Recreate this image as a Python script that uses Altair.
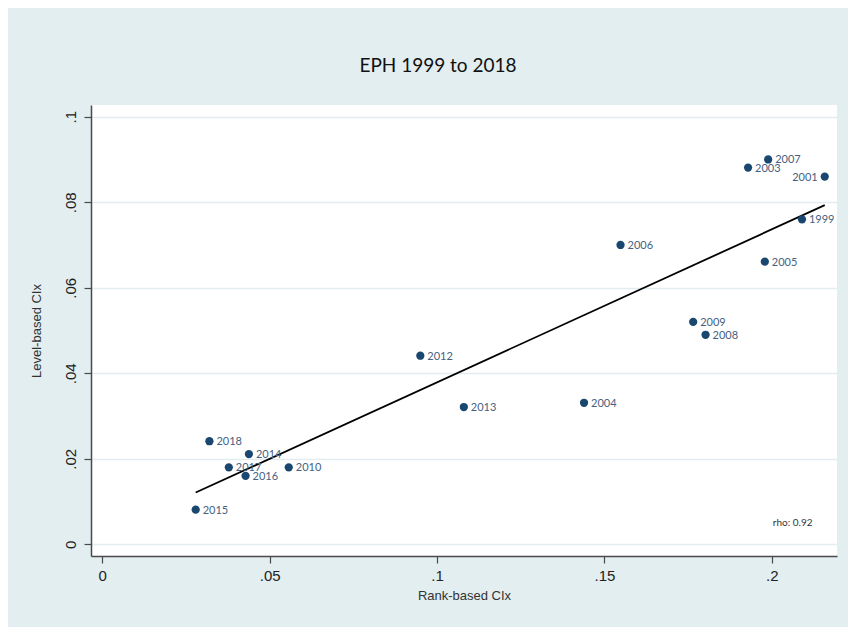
import altair as alt
import pandas as pd

# ---- data ----
years = ["2015", "2018", "2017", "2014", "2016", "2010", "2012", "2013", "2004",
         "2006", "2009", "2008", "2005", "2003", "2007", "2001", "1999"]
rank_cix = [0.0279, 0.0320, 0.0378, 0.0438, 0.0428, 0.0557, 0.0950, 0.1080, 0.1439,
            0.1548, 0.1765, 0.1802, 0.1979, 0.1929, 0.1989, 0.2158, 0.2090]
level_cix = [0.0081, 0.0241, 0.0180, 0.0211, 0.0160, 0.0180, 0.0441, 0.0321, 0.0331,
             0.0700, 0.0520, 0.0490, 0.0661, 0.0881, 0.0900, 0.0860, 0.0760]

x_ticks = [0, 0.05, 0.1, 0.15, 0.2]
x_tick_labels = ["0", ".05", ".1", ".15", ".2"]
y_ticks = [0, 0.02, 0.04, 0.06, 0.08, 0.1]
y_tick_labels = ["0", ".02", ".04", ".06", ".08", ".1"]

x_domain = [-0.00337, 0.21946]
y_domain = [-0.00274, 0.10274]

rho_text = ["rho: 0.92"]
rho_x = [0.2003]
rho_y = [0.0049]

title_text = "EPH 1999 to 2018"
x_title = "Rank-based CIx"
y_title = "Level-based CIx"

# label that sits at the right edge of the plot
edge_label = "2001"

df = pd.DataFrame({"year": years, "x": rank_cix, "y": level_cix})
rho_df = pd.DataFrame({"t": rho_text, "x": rho_x, "y": rho_y})


def label_expr(ticks, labels):
    parts = []
    for t, l in zip(ticks, labels):
        parts.append(f"abs(datum.value - {t}) < 1e-9 ? '{l}' : ")
    return "".join(parts) + "''"


BG = "#e2eef0"
NAVY = "#1a476f"
AXIS_COL = "#4a4a4a"
LABEL_COL = "#45617f"

x_enc = alt.X(
    "x:Q",
    scale=alt.Scale(domain=x_domain, nice=False, zero=False),
    axis=alt.Axis(
        values=x_ticks,
        labelExpr=label_expr(x_ticks, x_tick_labels),
        title=x_title,
        grid=False,
        domainColor=AXIS_COL,
        domainWidth=1.5,
        tickColor=AXIS_COL,
        tickSize=7,
        tickWidth=1.2,
        labelFont="Liberation Sans",
        labelFontSize=15,
        labelColor="#222222",
        labelPadding=5,
        titleFont="Liberation Sans",
        titleFontSize=13,
        titleFontWeight="normal",
        titleColor="#333333",
        titlePadding=6,
    ),
)

y_enc = alt.Y(
    "y:Q",
    scale=alt.Scale(domain=y_domain, nice=False, zero=False),
    axis=alt.Axis(
        values=y_ticks,
        labelExpr=label_expr(y_ticks, y_tick_labels),
        title=y_title,
        grid=True,
        gridColor="#e3edf0",
        gridWidth=1.6,
        domainColor=AXIS_COL,
        domainWidth=1.5,
        tickColor=AXIS_COL,
        tickSize=7,
        tickWidth=1.2,
        labelAngle=-90,
        labelAlign="center",
        labelBaseline="bottom",
        labelFont="Liberation Sans",
        labelFontSize=15,
        labelColor="#222222",
        labelPadding=6,
        titleFont="Liberation Sans",
        titleFontSize=13,
        titleFontWeight="normal",
        titleColor="#333333",
        titlePadding=20,
    ),
)

base = alt.Chart(df)

points = base.mark_circle(size=68, color=NAVY, opacity=1).encode(x=x_enc, y=y_enc)

labels = base.transform_filter(
    alt.datum.year != edge_label
).mark_text(
    align="left", baseline="middle", dx=7, dy=1,
    font="Lato", fontSize=11, color=LABEL_COL,
).encode(x="x:Q", y="y:Q", text="year:N")

labels_edge = base.transform_filter(
    alt.datum.year == edge_label
).mark_text(
    align="right", baseline="middle", dx=-7, dy=1,
    font="Lato", fontSize=11, color=LABEL_COL,
).encode(x="x:Q", y="y:Q", text="year:N")

fit = base.transform_regression("x", "y").mark_line(
    color="#000000", strokeWidth=1.8
).encode(x="x:Q", y="y:Q")

rho = alt.Chart(rho_df).mark_text(
    align="left", baseline="middle", font="Lato", fontSize=10, color="#333333"
).encode(x="x:Q", y="y:Q", text="t:N")

chart = (
    alt.layer(fit, points, labels, labels_edge, rho)
    .properties(
        width=746,
        height=451,
        autosize=alt.AutoSizeParams(type="none"),
        padding={"left": 83, "top": 97, "right": 11, "bottom": 71},
        background=BG,
        title=alt.TitleParams(
            title_text,
            font="Lato",
            fontSize=19,
            fontWeight="normal",
            color="#111111",
            anchor="middle",
            offset=29,
            dx=-26,
        ),
    )
    .configure_view(fill="white", stroke=None)
)

chart.save("out.html", embed_options={"renderer": "svg", "actions": False})
